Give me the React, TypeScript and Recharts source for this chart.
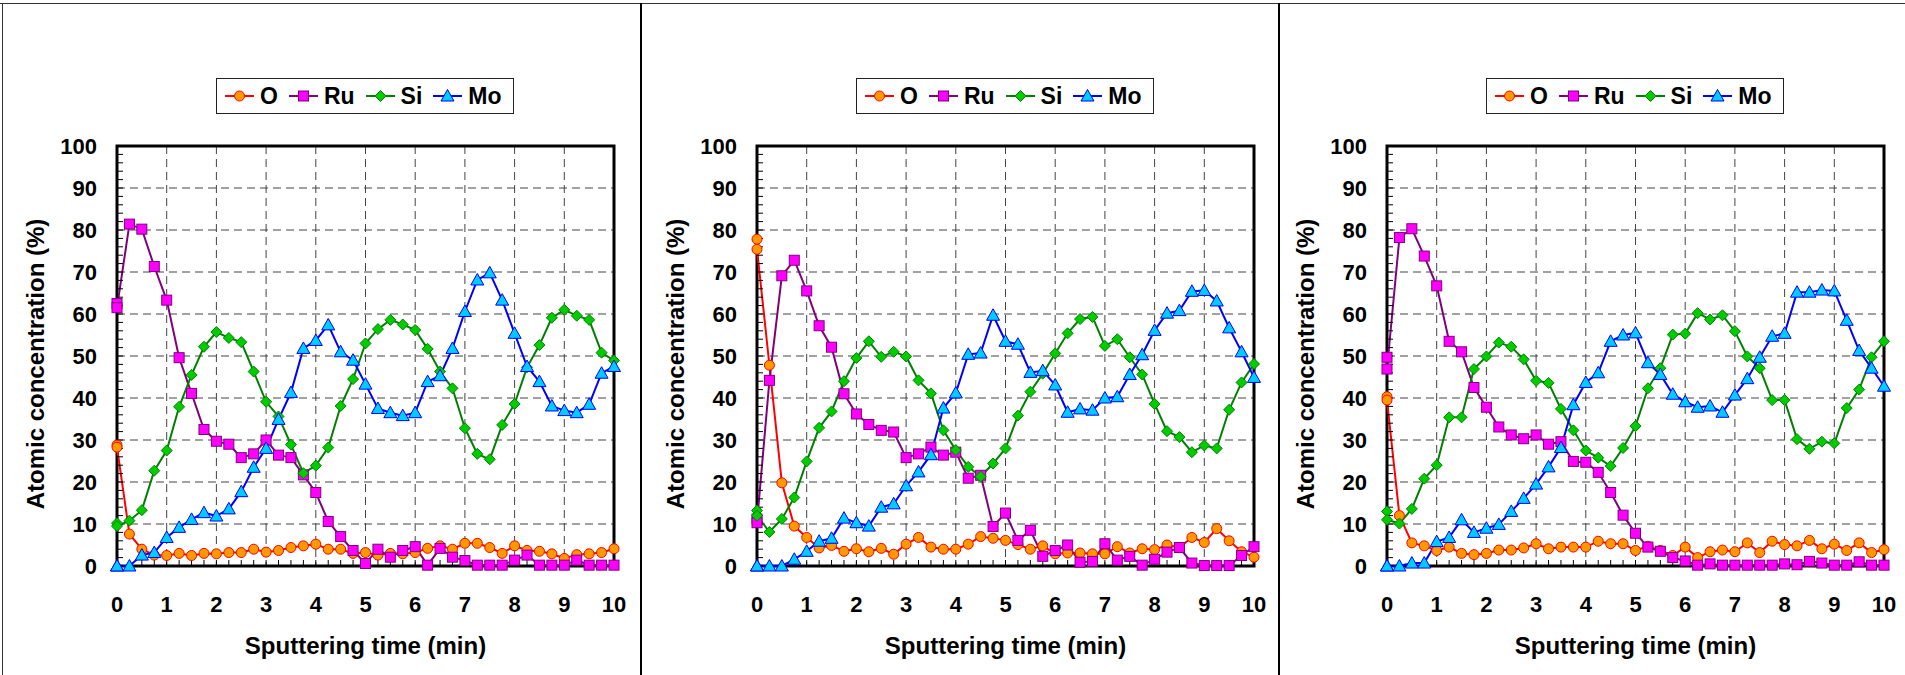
import React from 'react';
import { LineChart, Line, XAxis, YAxis, CartesianGrid, ReferenceArea, Legend, Label } from 'recharts';

// Sputtering time (min); the first two readings are both at t = 0
const times = [0, 0, 0.25, 0.5, 0.75, 1, 1.25, 1.5, 1.75, 2, 2.25, 2.5, 2.75, 3, 3.25, 3.5, 3.75, 4, 4.25, 4.5, 4.75, 5, 5.25, 5.5, 5.75, 6, 6.25, 6.5, 6.75, 7, 7.25, 7.5, 7.75, 8, 8.25, 8.5, 8.75, 9, 9.25, 9.5, 9.75, 10];

// Panel 1
const o1 = [28.8, 28.3, 7.6, 4.0, 2.6, 2.5, 3.0, 2.5, 3.0, 2.9, 3.2, 3.2, 4.0, 3.3, 3.7, 4.4, 4.8, 5.2, 4.0, 4.0, 3.0, 3.2, 2.6, 3.0, 2.9, 3.2, 4.2, 4.8, 4.0, 5.4, 5.4, 4.4, 3.0, 4.8, 3.7, 3.5, 2.9, 1.8, 2.7, 2.9, 3.2, 4.1];
const ru1 = [62.5, 61.5, 81.4, 80.2, 71.3, 63.3, 49.6, 41.1, 32.5, 29.7, 29.0, 25.8, 26.7, 30.0, 26.4, 25.8, 21.7, 17.5, 10.6, 7.0, 3.7, 0.6, 4.0, 2.1, 3.7, 4.6, 0.2, 4.2, 2.1, 1.3, 0.2, 0.2, 0.2, 1.4, 2.6, 0.2, 0.2, 0.2, 1.4, 0.2, 0.2, 0.2];
const si1 = [10.2, 9.5, 10.8, 13.3, 22.7, 27.5, 37.9, 45.5, 52.2, 55.7, 54.3, 53.3, 46.3, 39.1, 35.6, 28.9, 22.1, 23.9, 28.2, 38.1, 44.5, 53.0, 56.4, 58.6, 57.5, 56.2, 51.7, 46.3, 42.3, 32.8, 26.7, 25.4, 33.6, 38.6, 47.3, 52.6, 59.1, 61.0, 59.6, 58.6, 50.8, 48.9];
const mo1 = [0, 0, 0, 2.6, 3.2, 6.8, 9.2, 11.1, 12.7, 11.9, 13.6, 17.7, 23.5, 28.0, 34.9, 41.3, 51.8, 53.7, 57.4, 51.0, 49.0, 43.3, 37.5, 36.5, 35.8, 36.5, 43.9, 45.3, 51.8, 60.6, 68.1, 69.8, 63.3, 55.4, 47.5, 43.9, 38.1, 37.0, 36.5, 38.5, 45.9, 47.5];

// Panel 2
const o2 = [77.8, 75.4, 47.8, 19.8, 9.5, 6.8, 4.3, 4.9, 3.5, 4.1, 3.4, 4.2, 2.8, 5.2, 6.8, 4.5, 4.0, 4.0, 5.2, 7.0, 6.6, 6.1, 5.1, 4.0, 4.8, 2.9, 3.1, 3.1, 2.9, 2.9, 4.6, 3.1, 4.1, 3.9, 5.0, 4.4, 6.8, 5.6, 8.9, 6.0, 3.4, 2.1];
const ru2 = [11.2, 10.3, 44.2, 69.1, 72.8, 65.5, 57.2, 52.1, 41.0, 36.2, 33.7, 32.3, 31.9, 25.8, 26.7, 28.3, 26.4, 27.1, 20.9, 21.6, 9.4, 12.6, 6.1, 8.5, 2.3, 3.7, 5.0, 0.9, 1.1, 5.3, 1.4, 2.3, 0.2, 1.6, 3.3, 4.4, 0.7, 0.1, 0.1, 0.1, 2.5, 4.6];
const si2 = [13.2, 12.0, 8.1, 11.2, 16.3, 24.9, 32.9, 36.8, 44.0, 49.5, 53.5, 49.8, 51.0, 49.9, 44.2, 41.1, 32.3, 27.6, 23.6, 21.3, 24.4, 28.0, 35.8, 41.5, 45.8, 50.6, 55.4, 58.8, 59.3, 52.4, 54.0, 49.7, 45.6, 38.6, 32.1, 30.7, 27.1, 28.7, 28.0, 37.2, 43.7, 48.1];
const mo2 = [0, 0, 0, 0, 1.6, 3.5, 5.9, 6.6, 11.4, 10.3, 9.5, 14.0, 14.8, 19.1, 22.4, 26.5, 37.6, 41.2, 50.4, 50.7, 59.7, 53.5, 52.8, 46.1, 46.5, 43.1, 36.6, 37.4, 37.1, 40.0, 40.3, 45.6, 50.3, 56.1, 60.2, 60.8, 65.4, 65.6, 63.1, 56.7, 51.0, 44.9];

// Panel 3
const o3 = [40.3, 39.5, 12.0, 5.5, 4.8, 3.7, 4.5, 3.0, 2.7, 3.0, 3.8, 3.8, 4.3, 5.3, 4.1, 4.5, 4.5, 4.5, 5.9, 5.3, 5.3, 3.7, 4.7, 3.7, 2.5, 4.5, 2.0, 3.4, 3.8, 3.4, 5.5, 3.2, 5.9, 5.1, 4.8, 6.1, 4.1, 5.2, 3.7, 5.5, 3.2, 3.9];
const ru3 = [49.7, 46.9, 78.2, 80.3, 73.8, 66.7, 53.5, 51.0, 42.5, 37.8, 33.1, 31.2, 30.3, 31.2, 29.0, 29.6, 24.9, 24.7, 22.3, 17.5, 12.1, 7.8, 4.5, 3.5, 2.0, 1.2, 0.2, 0.5, 0.2, 0.2, 0.2, 0.2, 0.2, 0.5, 0.3, 1.1, 0.7, 0.2, 0.2, 1.0, 0.2, 0.2];
const si3 = [13.0, 11.0, 10.1, 13.6, 20.8, 24.0, 35.4, 35.4, 46.9, 49.9, 53.2, 52.2, 49.2, 44.1, 43.6, 37.4, 32.3, 27.5, 25.8, 23.8, 28.1, 33.3, 42.3, 47.1, 55.1, 55.3, 60.2, 58.7, 59.7, 55.9, 49.9, 47.1, 39.5, 39.5, 30.2, 27.9, 29.6, 29.2, 37.6, 42.0, 49.7, 53.5];
const mo3 = [0, 0, 0, 0.7, 0.7, 5.8, 6.8, 11.0, 8.0, 9.0, 9.9, 13.0, 16.1, 19.5, 23.6, 28.2, 38.4, 43.7, 46.0, 53.5, 55.0, 55.5, 48.4, 45.6, 40.9, 39.1, 37.8, 38.1, 36.6, 40.7, 44.6, 49.7, 54.7, 55.4, 65.2, 65.2, 65.7, 65.5, 58.5, 51.3, 47.1, 42.8];

// Axis ticks
const xTicks = [0, 0.25, 0.5, 0.75, 1, 1.25, 1.5, 1.75, 2, 2.25, 2.5, 2.75, 3, 3.25, 3.5, 3.75, 4, 4.25, 4.5, 4.75, 5, 5.25, 5.5, 5.75, 6, 6.25, 6.5, 6.75, 7, 7.25, 7.5, 7.75, 8, 8.25, 8.5, 8.75, 9, 9.25, 9.5, 9.75, 10];
const yTicks = [0, 2, 4, 6, 8, 10, 12, 14, 16, 18, 20, 22, 24, 26, 28, 30, 32, 34, 36, 38, 40, 42, 44, 46, 48, 50, 52, 54, 56, 58, 60, 62, 64, 66, 68, 70, 72, 74, 76, 78, 80, 82, 84, 86, 88, 90, 92, 94, 96, 98, 100];
const xMajor = [1, 2, 3, 4, 5, 6, 7, 8, 9];
const yMajor = [10, 20, 30, 40, 50, 60, 70, 80, 90];
const X_DOMAIN = [0, 10];
const Y_DOMAIN = [0, 100];

const seriesNames = ['O', 'Ru', 'Si', 'Mo'];
const lineColors = ['#FF0000', '#800080', '#008000', '#0000FF'];
const fillColors = ['#FF9900', '#FF00FF', '#00CC00', '#00CCFF'];
const shapes = ['circle', 'square', 'diamond', 'triangle'];

const FONT = '"Liberation Sans", Arial, Helvetica, sans-serif';

function applyScale(axis: any, v: number, fallback: number) {
  const s = axis && axis.scale;
  if (typeof s === 'function') return s(v);
  if (s && typeof s.map === 'function') {
    const r = s.map(v);
    if (typeof r === 'number') return r;
  }
  return fallback;
}

function marker(shape: string, cx: number, cy: number, fill: string, stroke: string, key?: any) {
  if (shape === 'circle') return <circle key={key} cx={cx} cy={cy} r={5} fill={fill} stroke={stroke} strokeWidth={1} />;
  if (shape === 'square') return <rect key={key} x={cx - 5} y={cy - 5} width={10} height={10} fill={fill} stroke={stroke} strokeWidth={1} />;
  if (shape === 'diamond') return <polygon key={key} points={`${cx},${cy - 5.5} ${cx + 5.5},${cy} ${cx},${cy + 5.5} ${cx - 5.5},${cy}`} fill={fill} stroke={stroke} strokeWidth={1} />;
  return <polygon key={key} points={`${cx},${cy - 6.5} ${cx + 6.5},${cy + 5} ${cx - 6.5},${cy + 5}`} fill={fill} stroke={stroke} strokeWidth={1} />;
}

const LegendBox = () => (
  <div style={{ boxSizing: 'border-box', width: 298, height: 36, border: '1px solid #222', display: 'flex', alignItems: 'center', paddingLeft: 8, gap: 11, fontFamily: FONT, fontWeight: 'bold', fontSize: 23, background: '#fff', color: '#000' }}>
    {seriesNames.map((n, i) => (
      <div key={n} style={{ display: 'flex', alignItems: 'center' }}>
        <svg width={29} height={20} style={{ display: 'block' }}>
          <line x1={0} y1={10} x2={29} y2={10} stroke={lineColors[i]} strokeWidth={2} />
          {marker(shapes[i], 14.5, 10, fillColors[i], lineColors[i])}
        </svg>
        <span style={{ marginLeft: 6, lineHeight: 1 }}>{n}</span>
      </div>
    ))}
  </div>
);

const XTitle = (props: any) => {
  const vb = props.viewBox || { x: 117, y: 566, width: 497, height: 109 };
  return (
    <text x={vb.x + vb.width / 2} y={vb.y + 88} textAnchor="middle" fontFamily={FONT} fontWeight="bold" fontSize={24} fill="#000">
      Sputtering time (min)
    </text>
  );
};

const YTitle = (props: any) => {
  const vb = props.viewBox || { x: 0, y: 146, width: 117, height: 420 };
  const cx = 35;
  const cy = vb.y + vb.height / 2 + 8;
  return (
    <text x={cx} y={cy} transform={`rotate(-90 ${cx} ${cy})`} textAnchor="middle" dominantBaseline="central" fontFamily={FONT} fontWeight="bold" fontSize={24} fill="#000">
      Atomic concentration (%)
    </text>
  );
};

function Panel({ vals, left }: { vals: number[][]; left: number }) {
  const data = times.map((t, i) => ({ t, O: vals[0][i], Ru: vals[1][i], Si: vals[2][i], Mo: vals[3][i] }));
  const tickStyle = { fill: '#000', fontSize: 22, fontWeight: 'bold', fontFamily: FONT };
  return (
    <div style={{ position: 'absolute', left, top: 0 }}>
      <LineChart width={640} height={675} data={data} margin={{ top: 146, right: 26, bottom: 0, left: 0 }}>
        <CartesianGrid
          stroke="#444"
          strokeWidth={1}
          strokeDasharray="8 5"
          horizontalCoordinatesGenerator={({ yAxis, offset }: any) =>
            yMajor.map((v) => applyScale(yAxis, v, offset.top + offset.height * (1 - (v - Y_DOMAIN[0]) / (Y_DOMAIN[1] - Y_DOMAIN[0]))))
          }
          verticalCoordinatesGenerator={({ xAxis, offset }: any) =>
            xMajor.map((v) => applyScale(xAxis, v, offset.left + offset.width * ((v - X_DOMAIN[0]) / (X_DOMAIN[1] - X_DOMAIN[0]))))
          }
        />
        <XAxis
          type="number"
          dataKey="t"
          domain={X_DOMAIN}
          ticks={xTicks}
          interval={0}
          height={109}
          tickSize={-6}
          tickMargin={36}
          axisLine={false}
          tickLine={{ stroke: '#000', strokeWidth: 1 }}
          tick={tickStyle}
          tickFormatter={(v: number) => (Number.isInteger(v) ? String(v) : '')}
        >
          <Label content={XTitle} />
        </XAxis>
        <YAxis
          type="number"
          domain={Y_DOMAIN}
          ticks={yTicks}
          interval={0}
          width={117}
          tickSize={-6}
          tickMargin={26}
          axisLine={false}
          tickLine={{ stroke: '#000', strokeWidth: 1 }}
          tick={tickStyle}
          tickFormatter={(v: number) => (v % 10 === 0 ? String(v) : '')}
        >
          <Label content={YTitle} />
        </YAxis>
        <ReferenceArea x1={0} x2={10} y1={0} y2={100} fill="none" fillOpacity={0} stroke="#000" strokeWidth={3} ifOverflow="visible" />
        {seriesNames.map((n, i) => (
          <Line
            key={n}
            type="linear"
            dataKey={n}
            stroke={lineColors[i]}
            strokeWidth={2}
            isAnimationActive={false}
            activeDot={false}
            dot={(p: any) => (p.cx == null || p.cy == null ? <g key={`${n}-${p.index}`} /> : marker(shapes[i], p.cx, p.cy, fillColors[i], lineColors[i], `${n}-${p.index}`))}
          />
        ))}
        <Legend
          layout="horizontal"
          verticalAlign="middle"
          align="center"
          content={() => <LegendBox />}
          wrapperStyle={{ left: 216, top: 78, width: 298, height: 36, right: 'auto', bottom: 'auto' }}
        />
      </LineChart>
    </div>
  );
}

export default function App() {
  return (
    <div style={{ position: 'absolute', left: 0, top: 0, width: 1905, height: 675, background: '#fff', overflow: 'hidden' }}>
      <div style={{ position: 'absolute', left: 0, top: 3, width: 1905, height: 1, background: '#333' }} />
      <div style={{ position: 'absolute', left: 2, top: 3, width: 1, height: 672, background: '#333' }} />
      <div style={{ position: 'absolute', left: 640, top: 3, width: 2, height: 672, background: '#000' }} />
      <div style={{ position: 'absolute', left: 1278, top: 3, width: 2, height: 672, background: '#000' }} />
      <Panel vals={[o1, ru1, si1, mo1]} left={0} />
      <Panel vals={[o2, ru2, si2, mo2]} left={640} />
      <Panel vals={[o3, ru3, si3, mo3]} left={1270} />
    </div>
  );
}
